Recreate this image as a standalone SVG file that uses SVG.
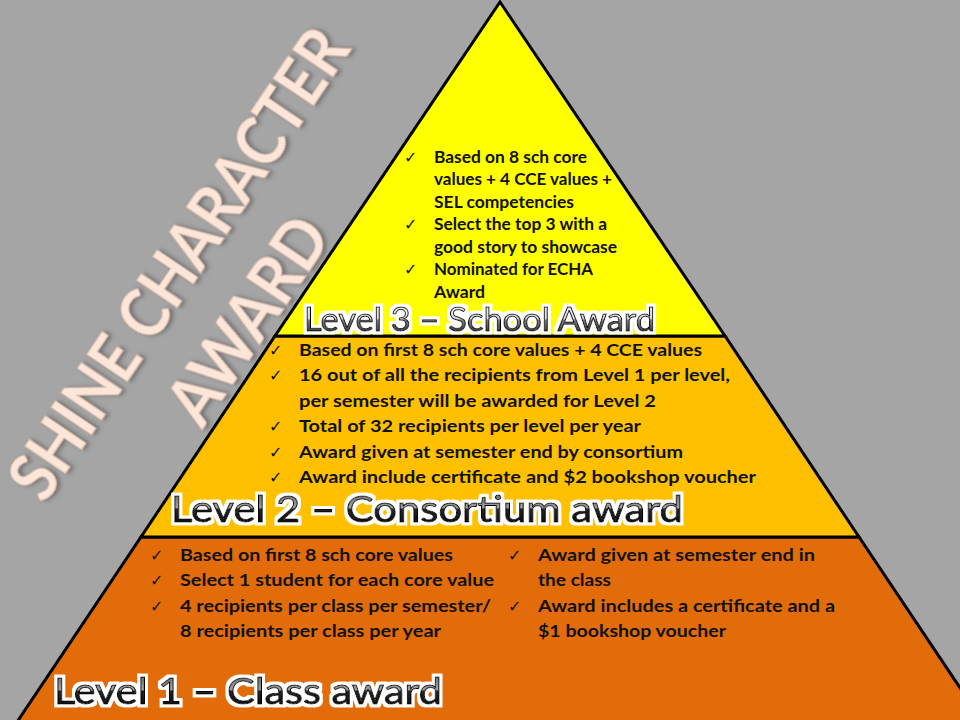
<svg xmlns="http://www.w3.org/2000/svg" width="960" height="720" viewBox="0 0 960 720">
  <defs>
    <style>
      .tier { stroke: #000; stroke-width: 3; stroke-linejoin: miter; }
      .item { font-family: Lato, "Liberation Sans", sans-serif; font-weight: bold; font-size: 17px; fill: #111; }
      .tick { font-family: "DejaVu Sans", sans-serif; font-size: 16px; fill: #111; }
      .label { font-family: Lato, "Liberation Sans", sans-serif; font-weight: normal; stroke: #000; stroke-width: 1; filter: url(#halo); }
      .title { font-family: Lato, "Liberation Sans", sans-serif; font-weight: bold; font-size: 66px; fill: #fce6da; stroke: #d8b9a8; stroke-width: 1; }
    </style>
    <linearGradient id="gloss-light" x1="0" y1="0" x2="0" y2="1">
      <stop offset="0" stop-color="#ffffff"/>
      <stop offset="0.5" stop-color="#d9d9d9"/>
      <stop offset="0.54" stop-color="#7f7f7f"/>
      <stop offset="1" stop-color="#1a1a1a"/>
    </linearGradient>
    <linearGradient id="gloss-dark" x1="0" y1="0" x2="0" y2="1">
      <stop offset="0" stop-color="#4d4d4d"/>
      <stop offset="0.5" stop-color="#a0a0a0"/>
      <stop offset="0.54" stop-color="#262626"/>
      <stop offset="1" stop-color="#000000"/>
    </linearGradient>
    <!-- white rim round the tier labels -->
    <filter id="halo" x="-5%" y="-20%" width="110%" height="140%">
      <feMorphology in="SourceAlpha" operator="dilate" radius="2.5" result="grown"/>
      <feFlood flood-color="#ffffff"/>
      <feComposite operator="in" in2="grown" result="rim"/>
      <feMerge>
        <feMergeNode in="rim"/>
        <feMergeNode in="SourceGraphic"/>
      </feMerge>
    </filter>
    <filter id="emboss" x="-20%" y="-40%" width="140%" height="180%">
      <feDropShadow dx="2" dy="3" stdDeviation="2" flood-color="#4a4a4a" flood-opacity="0.55"/>
    </filter>
  </defs>

  <!-- backdrop -->
  <rect width="960" height="720" fill="#a5a5a5"/>

  <!-- bottom tier: class award -->
  <g id="level1">
    <polygon class="tier" fill="#e36c0a" points="141,537 859,537 983,722 17,722"/>
    <text class="tick" x="150" y="560.5">✓</text>
    <text class="item" x="180" y="560.5" textLength="273" lengthAdjust="spacingAndGlyphs">Based on first 8 sch core values</text>
    <text class="tick" x="150" y="586">✓</text>
    <text class="item" x="180" y="586" textLength="314" lengthAdjust="spacingAndGlyphs">Select 1 student for each core value</text>
    <text class="tick" x="150" y="611.5">✓</text>
    <text class="item" x="180" y="611.5" textLength="311" lengthAdjust="spacingAndGlyphs">4 recipients per class per semester/</text>
    <text class="item" x="180" y="637" textLength="261" lengthAdjust="spacingAndGlyphs">8 recipients per class per year</text>
    <text class="tick" x="508" y="560.5">✓</text>
    <text class="item" x="538" y="560.5" textLength="277" lengthAdjust="spacingAndGlyphs">Award given at semester end in</text>
    <text class="item" x="538" y="586" textLength="73" lengthAdjust="spacingAndGlyphs">the class</text>
    <text class="tick" x="508" y="611.5">✓</text>
    <text class="item" x="538" y="611.5" textLength="297" lengthAdjust="spacingAndGlyphs">Award includes a certificate and a</text>
    <text class="item" x="538" y="637" textLength="188" lengthAdjust="spacingAndGlyphs">$1 bookshop  voucher</text>
    <text class="label" x="54" y="704" font-size="37.5" textLength="388" lengthAdjust="spacingAndGlyphs" fill="url(#gloss-dark)">Level 1 – Class award</text>
  </g>

  <!-- middle tier: consortium award -->
  <g id="level2">
    <polygon class="tier" fill="#ffc000" points="275,336 725,336 859,537 141,537"/>
    <text class="tick" x="269" y="355.7">✓</text>
    <text class="item" x="299" y="355.7" textLength="403" lengthAdjust="spacingAndGlyphs">Based on first 8 sch core values + 4 CCE values</text>
    <text class="tick" x="269" y="381.3">✓</text>
    <text class="item" x="299" y="381.3" textLength="431" lengthAdjust="spacingAndGlyphs">16 out of all the recipients from Level 1 per level,</text>
    <text class="item" x="299" y="406.7" textLength="357" lengthAdjust="spacingAndGlyphs">per semester will be awarded for Level 2</text>
    <text class="tick" x="269" y="432.3">✓</text>
    <text class="item" x="299" y="432.3" textLength="342" lengthAdjust="spacingAndGlyphs">Total of 32 recipients per level per year</text>
    <text class="tick" x="269" y="457.7">✓</text>
    <text class="item" x="299" y="457.7" textLength="384" lengthAdjust="spacingAndGlyphs">Award given at semester end by consortium</text>
    <text class="tick" x="269" y="483.3">✓</text>
    <text class="item" x="299" y="483.3" textLength="457" lengthAdjust="spacingAndGlyphs">Award include certificate  and $2 bookshop voucher</text>
    <text class="label" x="171" y="522" font-size="37.5" textLength="512" lengthAdjust="spacingAndGlyphs" fill="url(#gloss-dark)">Level 2 – Consortium award</text>
  </g>

  <!-- top tier: school award -->
  <g id="level3">
    <polygon class="tier" fill="#ffff00" points="500,2 725,336 275,336"/>
    <text class="tick" x="404" y="162.5">✓</text>
    <text class="item" x="434" y="162.5" textLength="153" lengthAdjust="spacingAndGlyphs">Based on 8 sch core</text>
    <text class="item" x="434" y="185" textLength="178" lengthAdjust="spacingAndGlyphs">values + 4 CCE values +</text>
    <text class="item" x="434" y="207.5" textLength="140" lengthAdjust="spacingAndGlyphs">SEL competencies</text>
    <text class="tick" x="404" y="230">✓</text>
    <text class="item" x="434" y="230" textLength="173" lengthAdjust="spacingAndGlyphs">Select the top 3 with a</text>
    <text class="item" x="434" y="252.5" textLength="183" lengthAdjust="spacingAndGlyphs">good story to showcase</text>
    <text class="tick" x="404" y="275">✓</text>
    <text class="item" x="434" y="275" textLength="159" lengthAdjust="spacingAndGlyphs">Nominated for ECHA</text>
    <text class="item" x="434" y="297.5" textLength="51" lengthAdjust="spacingAndGlyphs">Award</text>
    <text class="label" x="304" y="331" font-size="32.5" textLength="351" lengthAdjust="spacingAndGlyphs" fill="url(#gloss-light)">Level 3 – School Award</text>
  </g>

  <!-- slanted heading -->
  <g id="title" transform="translate(179,264) rotate(-56)" filter="url(#emboss)">
    <text class="title" x="0" y="23" text-anchor="middle" textLength="550" lengthAdjust="spacingAndGlyphs">SHINE CHARACTER</text>
    <text class="title" x="-8" y="112" text-anchor="middle" textLength="233" lengthAdjust="spacingAndGlyphs">AWARD</text>
  </g>
</svg>
